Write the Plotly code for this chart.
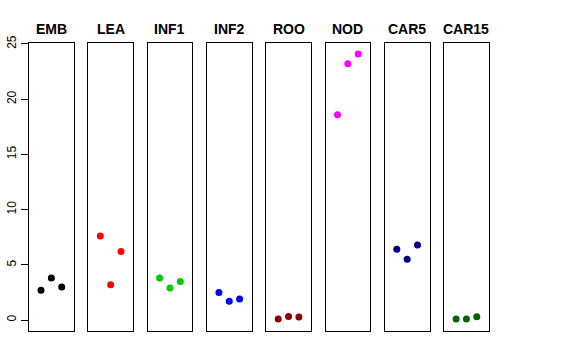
import plotly.graph_objects as go

tissues = ["EMB", "LEA", "INF1", "INF2", "ROO", "NOD", "CAR5", "CAR15"]
colors = ["#000000", "#FF0000", "#00CD00", "#0000FF", "#8B0000", "#FF00FF", "#00008B", "#006400"]
rep_x = [1, 2, 3]
values = {
    "EMB": [2.7, 3.8, 3.0],
    "LEA": [7.6, 3.2, 6.2],
    "INF1": [3.8, 2.9, 3.5],
    "INF2": [2.5, 1.7, 1.9],
    "ROO": [0.1, 0.33, 0.27],
    "NOD": [18.6, 23.2, 24.1],
    "CAR5": [6.4, 5.5, 6.8],
    "CAR15": [0.1, 0.1, 0.3],
}
y_ticks = [0, 5, 10, 15, 20, 25]

W, H = 576, 360
left0, pw, step = 29.0, 44.7, 59.3
top_px, bot_px = 43.3, 330.7
y_dom = [1 - bot_px / H, 1 - top_px / H]

fig = go.Figure()
layout = dict(
    width=W, height=H, margin=dict(l=0, r=0, t=0, b=0, autoexpand=False),
    plot_bgcolor="white", paper_bgcolor="white", showlegend=False,
    font=dict(family="Liberation Sans, Arial, sans-serif", color="black"),
)
annotations = []
for i, t in enumerate(tissues):
    n = "" if i == 0 else str(i + 1)
    x0 = (left0 + i * step) / W
    x1 = (left0 + i * step + pw) / W
    fig.add_trace(go.Scatter(
        x=rep_x, y=values[t], mode="markers",
        marker=dict(color=colors[i], size=7),
        xaxis="x" + n, yaxis="y" + n,
    ))
    layout["xaxis" + n] = dict(
        domain=[x0, x1], range=[-0.16, 4.16], showticklabels=False,
        ticks="", showgrid=False, zeroline=False, showline=True,
        mirror=True, linecolor="black", linewidth=1, anchor="y" + n,
        automargin=False,
    )
    yax = dict(
        domain=y_dom, range=[-0.964, 25.06], showgrid=False, zeroline=False,
        showline=True, mirror=True, linecolor="black", linewidth=1,
        anchor="x" + n, automargin=False,
    )
    if i == 0:
        yax.update(tickvals=y_ticks, ticks="outside", ticklen=7,
                   tickcolor="black", tickangle=-90,
                   tickfont=dict(size=12, color="black"))
    else:
        yax.update(showticklabels=False, ticks="")
    layout["yaxis" + n] = yax
    annotations.append(dict(
        text="<b>" + t + "</b>", x=(x0 + x1) / 2, y=1 - 29 / H,
        xref="paper", yref="paper", showarrow=False,
        xanchor="center", yanchor="middle",
        font=dict(size=14, color="black"),
    ))
layout["annotations"] = annotations
fig.update_layout(**layout)
fig.write_html(
    "out.html",
    config={"displayModeBar": False, "staticPlot": True},
    post_script="document.body.style.margin='0';document.body.style.overflow='hidden';",
)
